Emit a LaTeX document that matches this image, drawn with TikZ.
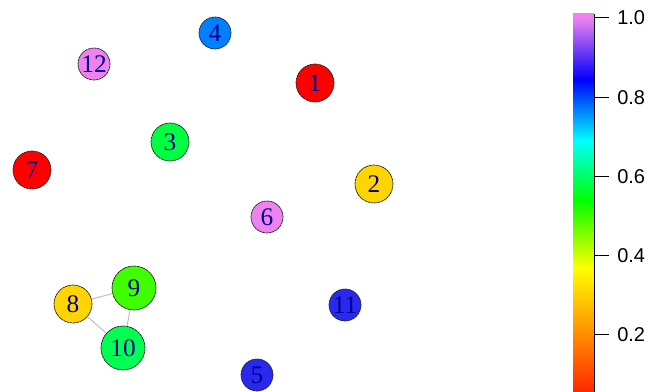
\documentclass[tikz,border=0pt]{standalone}
\usepackage{fontspec}
\setmainfont{Liberation Serif}
\setsansfont{Liberation Sans}
\definecolor{cR}{RGB}{255,0,0}
\definecolor{cO}{RGB}{255,140,0}
\definecolor{cY}{RGB}{255,255,0}
\definecolor{cG}{RGB}{0,255,0}
\definecolor{cC}{RGB}{0,255,255}
\definecolor{cB}{RGB}{0,0,255}
\definecolor{cV}{RGB}{238,130,238}
\definecolor{nGold}{RGB}{255,212,0}
\definecolor{nGreenA}{RGB}{0,255,64}
\definecolor{nGreenB}{RGB}{64,255,0}
\definecolor{nGreenC}{RGB}{0,255,80}
\definecolor{nSky}{RGB}{0,128,255}
\definecolor{nBlue}{RGB}{40,40,240}
\definecolor{lblue}{RGB}{0,0,139}
\definecolor{edgegray}{RGB}{190,190,190}
\tikzset{
  vtx/.style={circle, draw=black!85, line width=0.55pt, dash pattern=on 2pt off 0.4pt, inner sep=0pt,
    font=\fontsize{19}{19}\selectfont, text=lblue},
  vsmall/.style={minimum size=24pt},
  vmid/.style={minimum size=28.5pt},
  vbig/.style={minimum size=33pt},
  edge/.style={draw=edgegray, line width=0.75pt},
  ticklbl/.style={font=\sffamily\fontsize{15}{15}\selectfont, anchor=west, inner sep=0pt}
}
\begin{document}
\begin{tikzpicture}[x=0.75pt,y=-0.75pt]
\useasboundingbox (0,0) rectangle (650,392);
\node[vtx,vmid,fill=nGold] (n8) at (73,304) {8};
\node[vtx,vbig,fill=nGreenB] (n9) at (134,288) {9};
\node[vtx,vbig,fill=nGreenC] (n10) at (123,348) {10};
\draw[edge] (n8) -- (n9);
\draw[edge] (n8) -- (n10);
\draw[edge] (n9) -- (n10);
\node[vtx,vsmall,fill=nSky] (n4) at (215,33) {4};
\node[vtx,vsmall,fill=cV] (n12) at (94,64) {12};
\node[vtx,vmid,fill=cR] (n1) at (315,83) {1};
\node[vtx,vmid,fill=nGreenA] (n3) at (170,142) {3};
\node[vtx,vmid,fill=cR] (n7) at (32,170) {7};
\node[vtx,vmid,fill=nGold] (n2) at (374,184) {2};
\node[vtx,vsmall,fill=cV] (n6) at (267,217) {6};
\node[vtx,vsmall,fill=nBlue] (n11) at (345,305) {11};
\node[vtx,vsmall,fill=nBlue] (n5) at (257,375) {5};
% colour bar
\begin{scope}
\clip (573,14) rectangle (594,392);
\fill[cV] (573,10) rectangle (594,19);
\foreach \a/\b/\ca/\cb in {0/0.2/cR/cO,0.2/0.37/cO/cY,0.37/0.54/cY/cG,0.54/0.69/cG/cC,0.69/0.845/cC/cB,0.845/1.0/cB/cV} {
  \path[bottom color=\ca, top color=\cb, middle color=\ca!50!\cb]
    (573,{414-396*\a}) rectangle (594,{414-396*\b});
}
\end{scope}
\draw[line width=0.75pt] (594,14) -- (594,392);
\foreach \v/\l in {1/0.2,2/0.4,3/0.6,4/0.8,5/1.0} {
  \draw[line width=0.75pt] (594,{414-79.2*\v}) -- (609,{414-79.2*\v});
  \node[ticklbl] (t\v) at (617,{414-79.2*\v}) {\l};
}
\end{tikzpicture}
\end{document}
